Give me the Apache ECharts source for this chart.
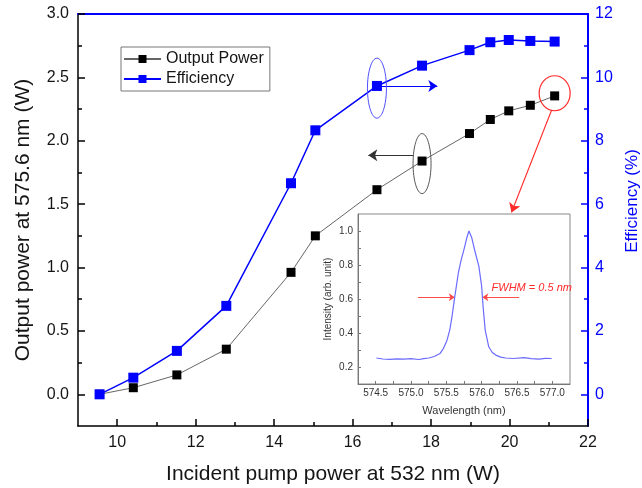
<!DOCTYPE html>
<html><head><meta charset="utf-8">
<script src="https://cdn.jsdelivr.net/npm/echarts@6/dist/echarts.min.js"></script>
<style>html,body{margin:0;padding:0;background:#fff}#c{width:642px;height:488px}</style>
</head><body><div id="c"></div>
<script>
// ---- data ----
const pumpPower   = [9.55, 10.41, 11.52, 12.78, 14.43, 15.05, 16.62, 17.77, 18.98, 19.51, 19.98, 20.53, 21.15];
const outputPower = [0.0, 0.052, 0.153, 0.356, 0.962, 1.25, 1.614, 1.84, 2.057, 2.168, 2.236, 2.28, 2.354];
const efficiency  = [0.0, 0.525, 1.37, 2.79, 6.66, 8.33, 9.73, 10.37, 10.86, 11.11, 11.18, 11.15, 11.13];

const wavelength = [574.51, 574.6, 574.7, 574.8, 574.9, 575.0, 575.11, 575.18, 575.25, 575.33, 575.41, 575.46, 575.51, 575.55, 575.58, 575.62, 575.67, 575.71, 575.75, 575.79, 575.82, 575.86, 575.91, 575.96, 576.0, 576.02, 576.05, 576.1, 576.15, 576.2, 576.27, 576.34, 576.45, 576.6, 576.7, 576.81, 576.9, 576.99];
const intensity  = [0.253, 0.247, 0.245, 0.248, 0.246, 0.249, 0.244, 0.249, 0.253, 0.262, 0.279, 0.31, 0.358, 0.42, 0.496, 0.615, 0.753, 0.83, 0.892, 0.96, 1.0, 0.96, 0.872, 0.793, 0.674, 0.556, 0.417, 0.319, 0.285, 0.27, 0.258, 0.253, 0.25, 0.255, 0.249, 0.246, 0.251, 0.25];

const xTickLabels      = [10, 12, 14, 16, 18, 20, 22];
const xMinorTicks      = [11, 13, 15, 17, 19, 21];
const leftTickLabels   = [0, 0.5, 1.0, 1.5, 2.0, 2.5, 3.0];
const leftMinorTicks   = [0.25, 0.75, 1.25, 1.75, 2.25, 2.75];
const rightTickLabels  = [0, 2, 4, 6, 8, 10, 12];
const rightMinorTicks  = [1, 3, 5, 7, 9, 11];
const insetXTickLabels = [574.5, 575.0, 575.5, 576.0, 576.5, 577.0];
const insetXMinorTicks = [574.75, 575.25, 575.75, 576.25, 576.75];
const insetYTickLabels = [0.2, 0.4, 0.6, 0.8, 1.0];
const insetYMinorTicks = [0.3, 0.5, 0.7, 0.9];

// annotation anchors (data coordinates)
const blueArrow  = [[16.62, 9.73], [18.16, 9.73]];
const blackArrow = [[17.55, 1.885], [16.4, 1.885]];
const redArrow   = [[21.07, 2.24], [20.05, 1.435]];
const fwhmLeft   = [[575.1, 0.611], [575.62, 0.611]];
const fwhmRight  = [[576.53, 0.611], [576.01, 0.611]];
const fwhmText   = [576.14, 0.665];
const blueEllipseCenter  = [16.62, 9.66];
const blackEllipseCenter = [17.77, 1.82];
const redCircleCenter    = [21.15, 2.375];

const FONT = '"Liberation Sans", Arial, sans-serif';
const BLUE = '#0000ff';
const INK = '#151515';

const zip = (a, b) => a.map((v, i) => [v, b[i]]);
const arrowLine = (pair, color) => [{ coord: pair[0], lineStyle: { color: color, width: 1.2, type: 'solid' } }, { coord: pair[1] }];

const chart = echarts.init(document.getElementById('c'), null, { renderer: 'canvas' });

const option = {
  animation: false,
  backgroundColor: '#fff',
  textStyle: { fontFamily: FONT },
  grid: [
    { left: 78, top: 14, right: 54, bottom: 62, show: false, containLabel: false, outerBoundsMode: 'none' },
    { left: 358, top: 214, width: 212, height: 170, show: true, backgroundColor: '#fff', borderColor: '#888', borderWidth: 1, containLabel: false, outerBoundsMode: 'none' }
  ],
  legend: {
    data: ['Output Power', 'Efficiency'],
    orient: 'vertical', left: 121, top: 47,
    itemWidth: 37, itemHeight: 10, itemGap: 4,
    padding: [4, 6, 4, 2],
    borderColor: '#777', borderWidth: 1,
    textStyle: { fontSize: 16, color: INK, fontFamily: FONT }
  },
  xAxis: [
    { gridIndex: 0, type: 'value', min: 9, max: 22, position: 'bottom',
      axisLine: { show: true, onZero: false, lineStyle: { color: '#000', width: 1.5 } },
      axisTick: { show: true, inside: true, length: 7, customValues: xTickLabels, lineStyle: { color: '#000', width: 1.5 } },
      axisLabel: { customValues: xTickLabels, fontSize: 16, color: INK, margin: 9, fontFamily: FONT },
      splitLine: { show: false },
      name: 'Incident pump power at 532 nm (W)', nameLocation: 'middle', nameGap: 38,
      nameTextStyle: { fontSize: 21, color: INK, fontFamily: FONT } },
    { gridIndex: 0, type: 'value', min: 9, max: 22, position: 'bottom', offset: 0,
      axisLine: { show: false, onZero: false },
      axisTick: { show: true, inside: true, length: 4, customValues: xMinorTicks, lineStyle: { color: '#000', width: 1.5 } },
      axisLabel: { show: false }, splitLine: { show: false } },
    { gridIndex: 0, type: 'value', min: 9, max: 22, position: 'top',
      axisLine: { show: true, onZero: false, lineStyle: { color: BLUE, width: 2 } },
      axisTick: { show: false }, axisLabel: { show: false }, splitLine: { show: false } },
    { gridIndex: 1, type: 'value', min: 574.25, max: 577.25, position: 'bottom',
      axisLine: { show: true, onZero: false, lineStyle: { color: '#777', width: 1 } },
      axisTick: { show: true, inside: true, length: 3, customValues: insetXTickLabels.concat(insetXMinorTicks), lineStyle: { color: '#777' } },
      axisLabel: { customValues: insetXTickLabels, formatter: v => v.toFixed(1), fontSize: 10, color: '#333', margin: 4, fontFamily: FONT },
      splitLine: { show: false },
      name: 'Wavelength (nm)', nameLocation: 'middle', nameGap: 21,
      nameTextStyle: { fontSize: 11, color: '#333', fontFamily: FONT } }
  ],
  yAxis: [
    { gridIndex: 0, type: 'value', min: -0.25, max: 3, position: 'left',
      axisLine: { show: true, onZero: false, lineStyle: { color: '#000', width: 1.5 } },
      axisTick: { show: true, inside: true, length: 7, customValues: leftTickLabels, lineStyle: { color: '#000', width: 1.5 } },
      axisLabel: { customValues: leftTickLabels, formatter: v => v.toFixed(1), fontSize: 16, color: INK, margin: 9, fontFamily: FONT },
      splitLine: { show: false },
      name: 'Output power at 575.6 nm (W)', nameLocation: 'middle', nameGap: 44, nameRotate: 90,
      nameTextStyle: { fontSize: 21, color: INK, fontFamily: FONT } },
    { gridIndex: 0, type: 'value', min: -1, max: 12, position: 'right',
      axisLine: { show: true, onZero: false, lineStyle: { color: BLUE, width: 2 } },
      axisTick: { show: true, inside: true, length: 7, customValues: rightTickLabels, lineStyle: { color: BLUE, width: 1.5 } },
      axisLabel: { customValues: rightTickLabels, fontSize: 16, color: BLUE, margin: 7, fontFamily: FONT },
      splitLine: { show: false },
      name: 'Efficiency (%)', nameLocation: 'middle', nameGap: 36, nameRotate: 90,
      nameTextStyle: { fontSize: 17, color: BLUE, fontFamily: FONT, padding: [0, 0, 0, 38] } },
    { gridIndex: 0, type: 'value', min: -0.25, max: 3, position: 'left', offset: 0,
      axisLine: { show: false, onZero: false },
      axisTick: { show: true, inside: true, length: 4, customValues: leftMinorTicks, lineStyle: { color: '#000', width: 1.5 } },
      axisLabel: { show: false }, splitLine: { show: false } },
    { gridIndex: 0, type: 'value', min: -1, max: 12, position: 'right', offset: 0,
      axisLine: { show: false, onZero: false },
      axisTick: { show: true, inside: true, length: 4, customValues: rightMinorTicks, lineStyle: { color: BLUE, width: 1.5 } },
      axisLabel: { show: false }, splitLine: { show: false } },
    { gridIndex: 1, type: 'value', min: 0.1, max: 1.1, position: 'left',
      axisLine: { show: true, onZero: false, lineStyle: { color: '#777', width: 1 } },
      axisTick: { show: true, inside: true, length: 3, customValues: insetYTickLabels.concat(insetYMinorTicks), lineStyle: { color: '#777' } },
      axisLabel: { customValues: insetYTickLabels, formatter: v => v.toFixed(1), fontSize: 10, color: '#333', margin: 5, fontFamily: FONT },
      splitLine: { show: false },
      name: 'Intensity (arb. unit)', nameLocation: 'middle', nameGap: 25, nameRotate: 90,
      nameTextStyle: { fontSize: 10, color: '#333', fontFamily: FONT } }
  ],
  series: [
    { name: 'Output Power', type: 'line', xAxisIndex: 0, yAxisIndex: 0,
      data: zip(pumpPower, outputPower),
      symbol: 'rect', symbolSize: 9,
      itemStyle: { color: '#000' },
      lineStyle: { color: '#666', width: 1 },
      emphasis: { disabled: true }, z: 3,
      markLine: { silent: true, symbol: ['none', 'arrow'], symbolSize: 9, label: { show: false },
        data: [arrowLine(blackArrow, '#333'), arrowLine(redArrow, '#ff2a2a')] } },
    { name: 'Efficiency', type: 'line', xAxisIndex: 0, yAxisIndex: 1,
      data: zip(pumpPower, efficiency),
      symbol: 'rect', symbolSize: 10,
      itemStyle: { color: BLUE },
      lineStyle: { color: BLUE, width: 1.5 },
      emphasis: { disabled: true }, z: 3,
      markLine: { silent: true, symbol: ['none', 'arrow'], symbolSize: 9, label: { show: false },
        data: [arrowLine(blueArrow, BLUE)] } },
    { name: 'Spectrum', type: 'line', xAxisIndex: 3, yAxisIndex: 4,
      data: zip(wavelength, intensity),
      showSymbol: false, smooth: false,
      lineStyle: { color: '#6b6bff', width: 1.2 },
      emphasis: { disabled: true }, z: 6,
      markLine: { silent: true, symbol: ['none', 'arrow'], symbolSize: 6, label: { show: false },
        data: [arrowLine(fwhmLeft, '#ff4a4a'), arrowLine(fwhmRight, '#ff4a4a')] } }
  ]
};
chart.setOption(option);

function px(xi, yi, pt) { return chart.convertToPixel({ xAxisIndex: xi, yAxisIndex: yi }, pt); }
const bc = px(0, 1, blueEllipseCenter);
const kc = px(0, 0, blackEllipseCenter);
const rc = px(0, 0, redCircleCenter);
const ft = px(3, 4, fwhmText);
chart.setOption({
  graphic: [
    { type: 'ellipse', shape: { cx: bc[0], cy: bc[1], rx: 9.5, ry: 30 }, style: { fill: 'none', stroke: '#4d4dff', lineWidth: 1 }, z: 10 },
    { type: 'ellipse', shape: { cx: kc[0], cy: kc[1], rx: 9, ry: 30 }, style: { fill: 'none', stroke: '#555', lineWidth: 1 }, z: 10 },
    { type: 'ellipse', shape: { cx: rc[0], cy: rc[1], rx: 15.5, ry: 17.5 }, style: { fill: 'none', stroke: '#ff2a2a', lineWidth: 1.2 }, z: 10 },
    { type: 'text', x: ft[0], y: ft[1], style: { text: 'FWHM = 0.5 nm', fill: '#ff2a2a', font: 'italic 11px "Liberation Sans", Arial, sans-serif', textAlign: 'left', textVerticalAlign: 'middle' }, z: 10 }
  ]
});
</script></body></html>
